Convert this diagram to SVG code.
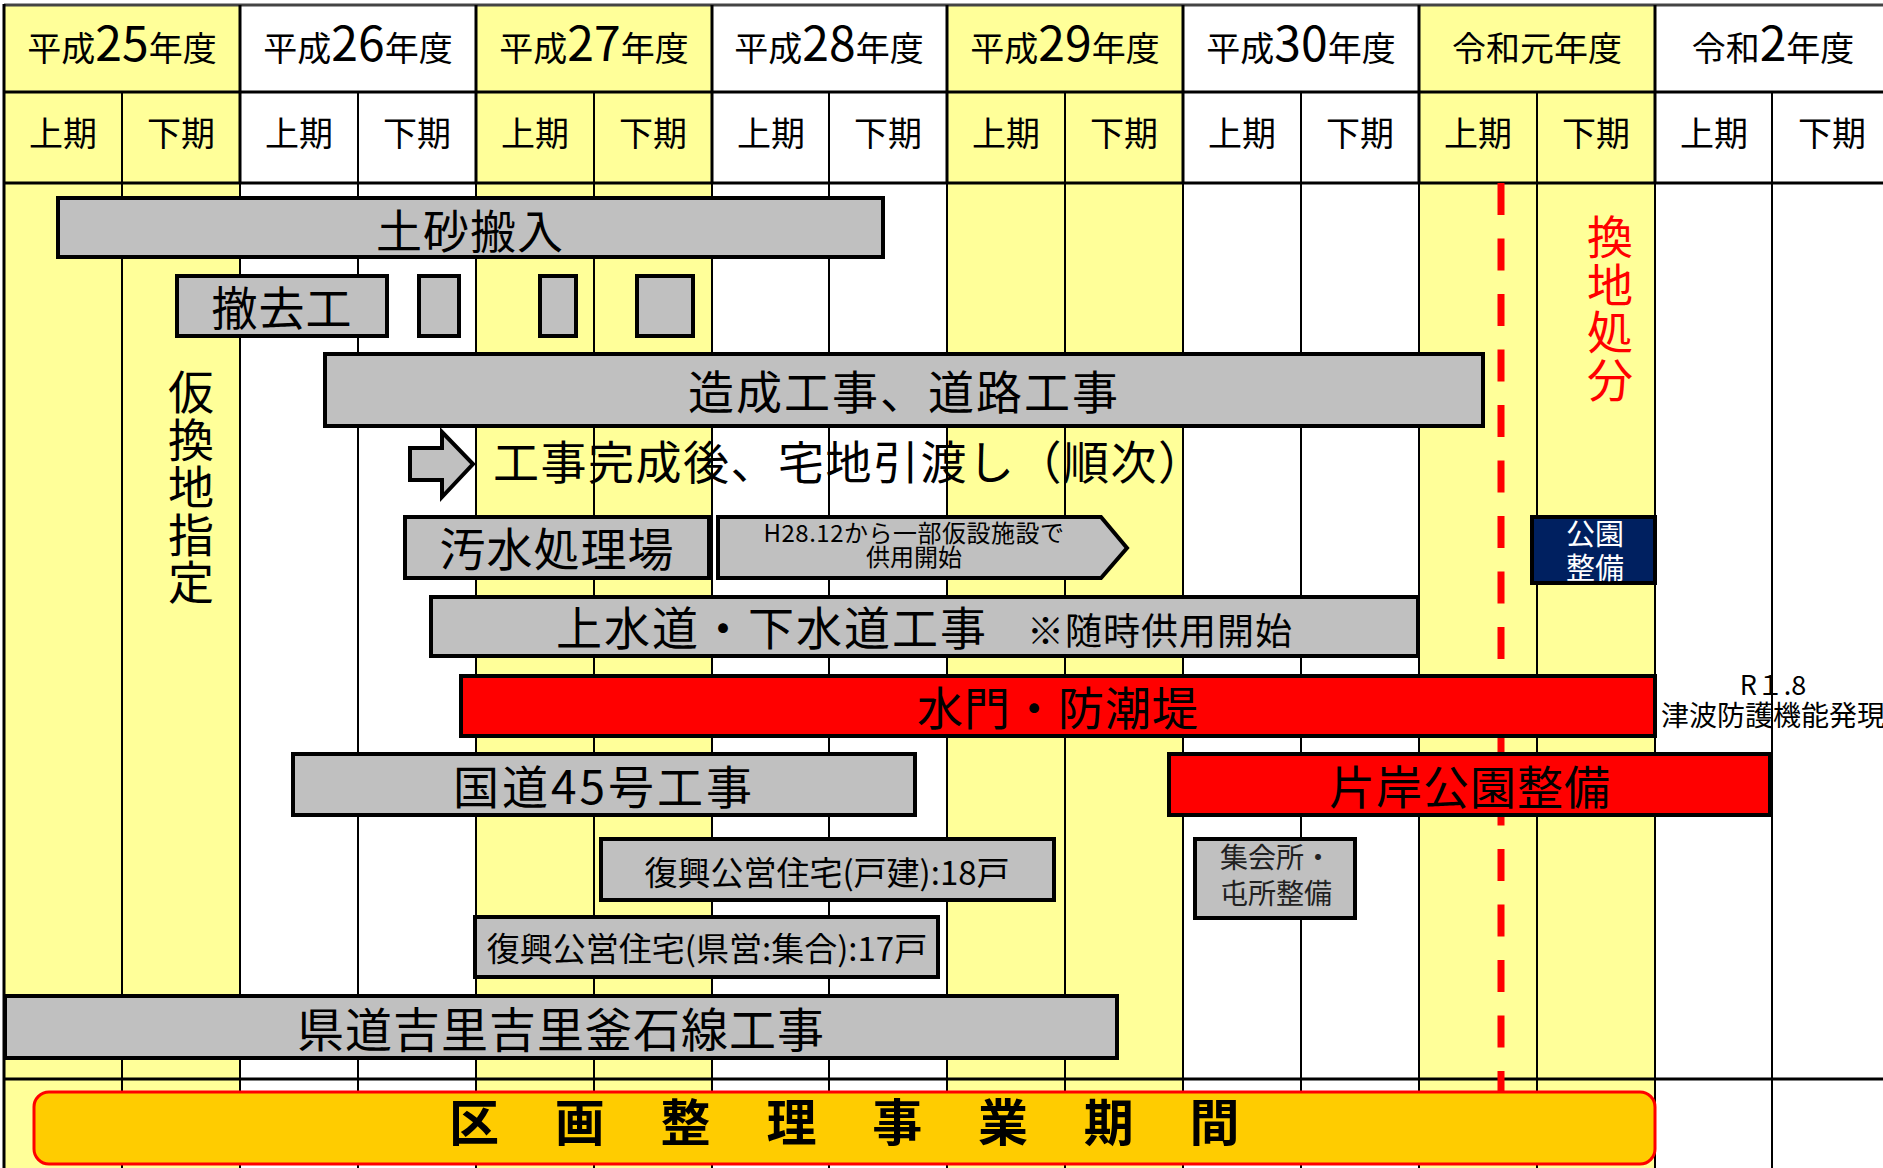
<svg xmlns="http://www.w3.org/2000/svg" width="1883" height="1168" viewBox="0 0 1883 1168">
<style>
text{font-family:"Noto Sans CJK JP","Noto Sans",sans-serif;fill:#000}
.hd{font-size:34px;text-anchor:middle}
.dg{font-size:48px}
.lbl{font-size:46px;text-anchor:middle;letter-spacing:1px}
.vt{font-size:46px;writing-mode:vertical-rl;letter-spacing:1.5px}
.bar{fill:#C0C0C0;stroke:#000;stroke-width:4}
.red{fill:#FF0000;stroke:#000;stroke-width:4}
.yl{fill:#FFFF99}
.gl{stroke:#000;stroke-width:2}
.hl{stroke:#000;stroke-width:3}
</style>
<rect x="0" y="0" width="1883" height="1168" fill="#fff"/>
<g id="grid">
<rect class="yl" x="4" y="5" width="236" height="1163"/>
<rect class="yl" x="476" y="5" width="236" height="1163"/>
<rect class="yl" x="947" y="5" width="236" height="1163"/>
<rect class="yl" x="1419" y="5" width="236" height="1163"/>
<g class="gl">
<line x1="122" y1="92" x2="122" y2="1168"/>
<line x1="358" y1="92" x2="358" y2="1168"/>
<line x1="594" y1="92" x2="594" y2="1168"/>
<line x1="829" y1="92" x2="829" y2="1168"/>
<line x1="1065" y1="92" x2="1065" y2="1168"/>
<line x1="1301" y1="92" x2="1301" y2="1168"/>
<line x1="1537" y1="92" x2="1537" y2="1168"/>
<line x1="1772" y1="92" x2="1772" y2="1168"/>
<line x1="240" y1="183" x2="240" y2="1168"/>
<line x1="476" y1="183" x2="476" y2="1168"/>
<line x1="712" y1="183" x2="712" y2="1168"/>
<line x1="947" y1="183" x2="947" y2="1168"/>
<line x1="1183" y1="183" x2="1183" y2="1168"/>
<line x1="1419" y1="183" x2="1419" y2="1168"/>
<line x1="1655" y1="183" x2="1655" y2="1168"/>
</g>
<g class="hl">
<line x1="4" y1="5" x2="1883" y2="5" stroke="#444"/>
<line x1="4" y1="92" x2="1883" y2="92"/>
<line x1="4" y1="183" x2="1883" y2="183"/>
<line x1="4" y1="1079" x2="1883" y2="1079"/>
<line x1="4" y1="4" x2="4" y2="1168"/>
<line x1="240" y1="5" x2="240" y2="183"/>
<line x1="476" y1="5" x2="476" y2="183"/>
<line x1="712" y1="5" x2="712" y2="183"/>
<line x1="947" y1="5" x2="947" y2="183"/>
<line x1="1183" y1="5" x2="1183" y2="183"/>
<line x1="1419" y1="5" x2="1419" y2="183"/>
<line x1="1655" y1="5" x2="1655" y2="183"/>
</g>
</g>
<g id="year-headers">
<text class="hd" x="122" y="61">平成<tspan class="dg">25</tspan>年度</text>
<text class="hd" x="358" y="61">平成<tspan class="dg">26</tspan>年度</text>
<text class="hd" x="594" y="61">平成<tspan class="dg">27</tspan>年度</text>
<text class="hd" x="829" y="61">平成<tspan class="dg">28</tspan>年度</text>
<text class="hd" x="1065" y="61">平成<tspan class="dg">29</tspan>年度</text>
<text class="hd" x="1301" y="61">平成<tspan class="dg">30</tspan>年度</text>
<text class="hd" x="1537" y="61">令和元年度</text>
<text class="hd" x="1773" y="61">令和<tspan class="dg">2</tspan>年度</text>
</g>
<g id="half-headers">
<text class="hd" x="63" y="146">上期</text>
<text class="hd" x="181" y="146">下期</text>
<text class="hd" x="299" y="146">上期</text>
<text class="hd" x="417" y="146">下期</text>
<text class="hd" x="535" y="146">上期</text>
<text class="hd" x="653" y="146">下期</text>
<text class="hd" x="771" y="146">上期</text>
<text class="hd" x="888" y="146">下期</text>
<text class="hd" x="1006" y="146">上期</text>
<text class="hd" x="1124" y="146">下期</text>
<text class="hd" x="1242" y="146">上期</text>
<text class="hd" x="1360" y="146">下期</text>
<text class="hd" x="1478" y="146">上期</text>
<text class="hd" x="1596" y="146">下期</text>
<text class="hd" x="1714" y="146">上期</text>
<text class="hd" x="1832" y="146">下期</text>
</g>
<g id="connectors">
<line x1="1501" y1="183" x2="1501" y2="1095" stroke="#FF0000" stroke-width="7" stroke-dasharray="32 23.5"/>
</g>
<g id="kari-kanchi">
<text class="vt" x="191" y="369">仮換地指定</text>
</g>
<g id="kanchi-shobun">
<text class="vt" x="1610" y="214" style="fill:#FF0000">換地処分</text>
</g>
<g id="dosha">
<rect class="bar" x="58" y="198" width="825" height="59"/>
<text class="lbl" x="470" y="248">土砂搬入</text>
</g>
<g id="tekkyo">
<rect class="bar" x="177" y="276" width="210" height="60"/>
<text class="lbl" x="282" y="325">撤去工</text>
<rect class="bar" x="419" y="276" width="40" height="60"/>
<rect class="bar" x="540" y="276" width="36" height="60"/>
<rect class="bar" x="637" y="276" width="56" height="60"/>
</g>
<g id="zosei">
<rect class="bar" x="325" y="354" width="1158" height="72"/>
<text class="lbl" x="904" y="409" style="letter-spacing:2px">造成工事、道路工事</text>
</g>
<g id="hikiwatashi">
<polygon class="bar" points="410,448 442,448 442,432 473,464 442,497 442,480 410,480"/>
<text x="493" y="478.5" style="font-size:46px;letter-spacing:1.5px">工事完成後、宅地引渡し（順次）</text>
</g>
<g id="osui">
<rect class="bar" x="405" y="517" width="304" height="61"/>
<text class="lbl" x="557" y="565.5">汚水処理場</text>
</g>
<g id="osui-note">
<polygon class="bar" points="718,517 1101,517 1127,548 1101,578 718,578"/>
<text x="914" y="542" style="font-size:24px;text-anchor:middle;letter-spacing:0.5px">H28.12から一部仮設施設で</text>
<text x="914" y="566" style="font-size:24px;text-anchor:middle">供用開始</text>
</g>
<g id="suido">
<rect class="bar" x="431" y="597" width="987" height="59"/>
<text x="556" y="645" style="font-size:46px;letter-spacing:2px">上水道・下水道工事</text>
<text x="1027" y="645" style="font-size:37px;letter-spacing:1px">※随時供用開始</text>
</g>
<g id="suimon">
<rect class="red" x="461" y="676" width="1194" height="60"/>
<text class="lbl" x="1058" y="724.5">水門・防潮堤</text>
</g>
<g id="r18-note">
<text x="1773" y="695" style="font-size:27px;text-anchor:middle">R１.8</text>
<text x="1661" y="726" style="font-size:28px">津波防護機能発現</text>
</g>
<g id="katagishi">
<rect class="red" x="1169" y="754" width="601" height="61"/>
<text class="lbl" x="1470" y="803.5">片岸公園整備</text>
</g>
<g id="kokudo45">
<rect class="bar" x="293" y="754" width="622" height="61"/>
<text class="lbl" x="604" y="804" style="letter-spacing:3px">国道45号工事</text>
</g>
<g id="koei-kodate">
<rect class="bar" x="601" y="839" width="453" height="61"/>
<text x="827" y="885" style="font-size:33px;text-anchor:middle">復興公営住宅(戸建):18戸</text>
</g>
<g id="koei-kenei">
<rect class="bar" x="475" y="917" width="463" height="60"/>
<text x="707" y="961" style="font-size:33px;text-anchor:middle">復興公営住宅(県営:集合):17戸</text>
</g>
<g id="shukaisho">
<rect class="bar" x="1195" y="839" width="160" height="79"/>
<text x="1276" y="868" style="font-size:28px;text-anchor:middle;fill:#222">集会所・</text>
<text x="1276" y="904" style="font-size:28px;text-anchor:middle;fill:#222">屯所整備</text>
</g>
<g id="koen-seibi">
<rect x="1532" y="517" width="123" height="66" fill="#002060" stroke="#000" stroke-width="4"/>
<text x="1595" y="545" style="font-size:29px;text-anchor:middle;fill:#fff">公園</text>
<text x="1595" y="579" style="font-size:29px;text-anchor:middle;fill:#fff">整備</text>
</g>
<g id="kendo">
<rect class="bar" x="5" y="996" width="1112" height="62"/>
<text x="561" y="1047" style="font-size:47px;text-anchor:middle;letter-spacing:1px">県道吉里吉里釜石線工事</text>
</g>
<g id="kukaku">
<rect x="34" y="1092" width="1621" height="72" rx="15" ry="15" fill="#FFCC00" stroke="#FF0000" stroke-width="3"/>
<text x="449" y="1141" style="font-size:50px;font-weight:bold;letter-spacing:2.9px">区　画　整　理　事　業　期　間</text>
</g>
</svg>
